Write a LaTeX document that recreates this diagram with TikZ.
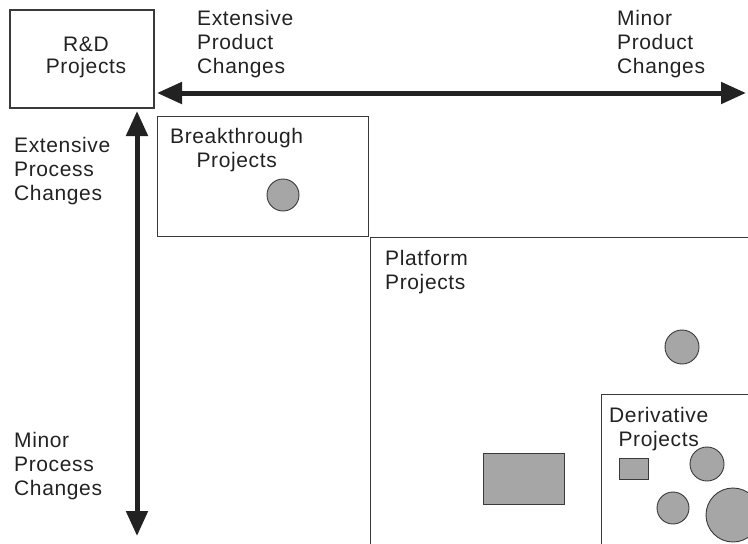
\documentclass[tikz,border=0pt]{standalone}
\usepackage{fontspec}
\setmainfont[LetterSpace=3]{Liberation Sans}
\usetikzlibrary{arrows.meta}
\definecolor{ink}{HTML}{222222}
\definecolor{edge}{HTML}{3A3A3A}
\definecolor{blob}{HTML}{A6A6A6}
\begin{document}
\begin{tikzpicture}[x=1pt,y=-1pt,
  lbl/.style={anchor=north west,inner sep=0pt,text=ink,font=\fontsize{21}{24}\selectfont},
  box/.style={draw=edge,line width=1.2pt,inner sep=0pt},
  blobc/.style={circle,draw=edge,fill=blob,line width=0.9pt,inner sep=0pt},
  blobr/.style={rectangle,draw=edge,fill=blob,line width=0.9pt,inner sep=0pt},
  axis/.style={line width=5pt,draw=ink,{Triangle[length=25pt,width=21pt]}-{Triangle[length=25pt,width=21pt]}}]
\useasboundingbox (0,0) rectangle (748,544);
\clip (0,0) rectangle (748,544);
% boxes
\node[box,minimum width=144pt,minimum height=98pt] (rd) at (82,59) {};
\node[inner sep=0pt,align=center,text=ink,font=\fontsize{21}{22}\selectfont] (rdl) at (86,57) {R\&D\\Projects};
\node[box,anchor=north west,minimum width=211pt,minimum height=120pt] (bt) at (157,116) {};
\node[box,anchor=north west,minimum width=400pt,minimum height=330pt] (pf) at (370,237) {};
\node[box,anchor=north west,minimum width=200pt,minimum height=200pt] (dv) at (601,394) {};
% axes
\coordinate (hl) at (157,93);
\coordinate (hr) at (746,93);
\coordinate (vt) at (137,111);
\coordinate (vb) at (137,536);
\draw[axis] (hl) -- (hr);
\draw[axis] (vt) -- (vb);
% axis labels
\node[lbl,align=left] (ept) at (197,10) {Extensive\\Product\\Changes};
\node[lbl,align=left] (mpt) at (617,10) {Minor\\Product\\Changes};
\node[lbl,align=left] (epc) at (14,137) {Extensive\\Process\\Changes};
\node[lbl,align=left] (mpc) at (14,432) {Minor\\Process\\Changes};
% region labels
\node[lbl,align=center] (btl) at (170,128) {Breakthrough\\Projects};
\node[lbl,align=left] (pfl) at (385,250) {Platform\\Projects};
\node[lbl,align=center] (dvl) at (609,407) {Derivative\\Projects};
% projects
\node[blobc,minimum size=32pt] (c1) at (283,195) {};
\node[blobc,minimum size=34pt] (c2) at (682,347) {};
\node[blobr,minimum width=81pt,minimum height=51pt] (r1) at (523.5,478.5) {};
\node[blobr,minimum width=29pt,minimum height=21pt] (r2) at (633.5,468.5) {};
\node[blobc,minimum size=34pt] (c3) at (707,464) {};
\node[blobc,minimum size=32pt] (c4) at (673,508) {};
\node[blobc,minimum size=54pt] (c5) at (733,515) {};
\end{tikzpicture}
\end{document}
